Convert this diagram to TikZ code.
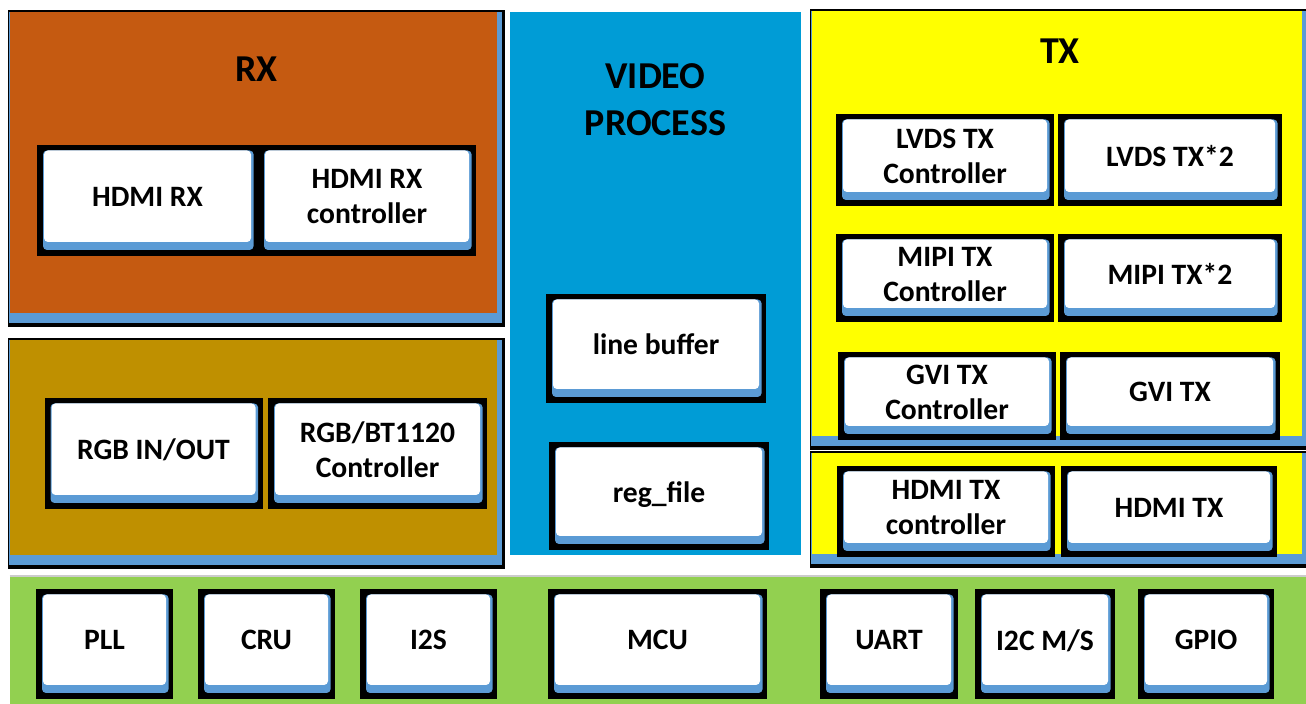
\documentclass[tikz,border=0pt]{standalone}
\usepackage{fontspec}
\setmainfont{Carlito}
\usepackage{tikz}
\definecolor{rxorange}{RGB}{197,90,17}
\definecolor{rgbgold}{RGB}{191,144,0}
\definecolor{vpblue}{RGB}{0,156,214}
\definecolor{txyellow}{RGB}{255,255,0}
\definecolor{sysgreen}{RGB}{146,208,80}
\definecolor{rimblue}{RGB}{91,155,213}

\begin{document}
\begin{tikzpicture}[x=0.5pt,y=-0.5pt,
	panel/.style={fill=black,draw=none,inner sep=0pt,path picture={
		\fill[rimblue] ([shift={(0.5pt,2pt)}]path picture bounding box.south west) rectangle ([shift={(-1.5pt,-1pt)}]path picture bounding box.north east);
		\fill[#1] ([shift={(1pt,7pt)}]path picture bounding box.south west) rectangle ([shift={(-4pt,-1pt)}]path picture bounding box.north east);}},
	blk/.style={fill=black,draw=none,align=center,text depth=4pt,font=\fontsize{14.8}{17.5}\selectfont\bfseries,path picture={
		\fill[rimblue,rounded corners=2pt] ([shift={(3pt,3pt)}]path picture bounding box.south west) rectangle ([shift={(-2.2pt,-2.75pt)}]path picture bounding box.north east);
		\fill[white,rounded corners=2pt] ([shift={(3.5pt,7pt)}]path picture bounding box.south west) rectangle ([shift={(-3.5pt,-2.75pt)}]path picture bounding box.north east);}},
	ttl/.style={align=center,font=\fontsize{19}{23.5}\selectfont\bfseries}]
	\useasboundingbox (0,0) rectangle (1306,704);

	\node[panel=rxorange,minimum width=248.5pt,minimum height=158.5pt] (rx) at (256.5,168.5) {};
	\node[panel=rgbgold,minimum width=248.5pt,minimum height=115.5pt] (rgb) at (256.5,453.5) {};
	\node[fill=vpblue,inner sep=0pt,minimum width=145.5pt,minimum height=271.5pt] (vp) at (655.5,283.5) {};
	\node[panel=txyellow,minimum width=250pt,minimum height=220.5pt] (tx) at (1060,229.5) {};
	\node[panel=txyellow,minimum width=250pt,minimum height=58.5pt] (hdmitx) at (1060,509.5) {};
	\node[fill=sysgreen,inner sep=0pt,minimum width=650pt,minimum height=67pt] (sys) at (660,643) {};
	\draw[gray!40,line width=1pt] (sys.north west) -- (sys.north east);

	\node[ttl] (rxt) at ([yshift=-30pt]rx.north) {RX};
	\node[ttl] (vpt) at ([yshift=-44pt]vp.north) {VIDEO\\PROCESS};
	\node[ttl] (txt) at ([yshift=-21.5pt]tx.north) {TX};

	\node[blk,minimum width=110.5pt,minimum height=55.5pt] (hdmirx) at (147.5,200.5) {HDMI RX};
	\node[blk,minimum width=109pt,minimum height=55.5pt] (hdmirxc) at (367,200.5) {HDMI RX\\controller};
	\node[blk,minimum width=109pt,minimum height=55.5pt] (rgbio) at (153.5,453.5) {RGB IN/OUT};
	\node[blk,minimum width=109.5pt,minimum height=55.5pt] (rgbc) at (377.5,453.5) {RGB/BT1120\\Controller};

	\node[blk,minimum width=110pt,minimum height=54.5pt] (lbuf) at (656,348.5) {line buffer};
	\node[blk,minimum width=110pt,minimum height=54pt] (reg) at (659,496) {reg\_file};

	\node[blk,minimum width=109pt,minimum height=46pt] (lvdsc) at (945,160) {LVDS TX\\Controller};
	\node[blk,minimum width=112pt,minimum height=46pt] (lvds) at (1170,160) {LVDS TX*2};
	\node[blk,minimum width=109pt,minimum height=44pt] (mipic) at (945,278) {MIPI TX\\Controller};
	\node[blk,minimum width=112pt,minimum height=44pt] (mipi) at (1170,278) {MIPI TX*2};
	\node[blk,minimum width=109pt,minimum height=44pt] (gvic) at (947,396) {GVI TX\\Controller};
	\node[blk,minimum width=110pt,minimum height=44pt] (gvi) at (1170,396) {GVI TX};
	\node[blk,minimum width=109pt,minimum height=45.5pt] (hdmitxc) at (946,511.5) {HDMI TX\\controller};
	\node[blk,minimum width=108pt,minimum height=45.5pt] (hdmitxb) at (1169,511.5) {HDMI TX};

	\node[blk,minimum width=68.5pt,minimum height=55pt] (pll) at (104.5,644) {PLL};
	\node[blk,minimum width=68.5pt,minimum height=55pt] (cru) at (266.5,644) {CRU};
	\node[blk,minimum width=68.5pt,minimum height=55pt] (iis) at (428.5,644) {I2S};
	\node[blk,minimum width=109.5pt,minimum height=55pt] (mcu) at (657.5,644) {MCU};
	\node[blk,minimum width=69pt,minimum height=55pt] (uart) at (889,644) {UART};
	\node[blk,minimum width=70pt,minimum height=55pt] (iic) at (1045,644) {I2C M/S};
	\node[blk,minimum width=68pt,minimum height=55pt] (gpio) at (1206,644) {GPIO};
\end{tikzpicture}
\end{document}
